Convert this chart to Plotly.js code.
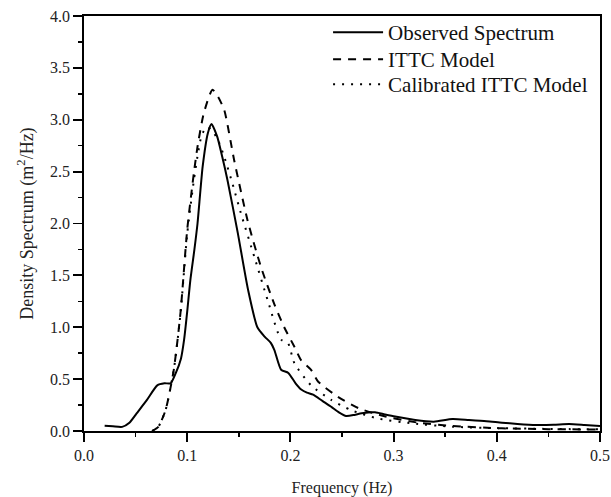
<!DOCTYPE html>
<html><head><meta charset="utf-8">
<script src="https://cdn.plot.ly/plotly-3.0.1.min.js"></script>
<style>html,body{margin:0;padding:0;background:#fff}#chart{width:611px;height:497px}</style>
</head><body><div id="chart"></div>
<script>
// Observed spectrum
const obsFreq = [0.020,0.028,0.037,0.044,0.051,0.061,0.071,0.078,0.084,0.089,0.094,0.097,0.100,0.103,0.107,0.110,0.115,0.120,0.1235,0.129,0.134,0.139,0.149,0.159,0.168,0.175,0.181,0.1845,0.191,0.198,0.205,0.2105,0.216,0.222,0.231,0.240,0.247,0.254,0.262,0.269,0.282,0.2915,0.3015,0.321,0.339,0.357,0.373,0.390,0.405,0.420,0.438,0.455,0.470,0.485,0.500];
const obsVal  = [0.050,0.045,0.040,0.080,0.170,0.300,0.440,0.460,0.460,0.560,0.700,0.880,1.150,1.450,1.750,2.000,2.550,2.870,2.960,2.840,2.640,2.420,1.910,1.360,1.000,0.910,0.850,0.780,0.590,0.560,0.460,0.400,0.370,0.350,0.290,0.230,0.180,0.145,0.155,0.170,0.180,0.160,0.140,0.106,0.090,0.115,0.106,0.095,0.080,0.068,0.058,0.060,0.067,0.058,0.048];
// ITTC model
const ittcFreq = [0.066,0.072,0.079,0.087,0.0935,0.100,0.1065,0.110,0.116,0.1245,0.130,0.136,0.1455,0.1585,0.1715,0.1845,0.194,0.204,0.2105,0.220,0.227,0.246,0.266,0.292,0.324,0.357,0.405,0.450,0.500];
const ittcVal  = [0.000,0.040,0.200,0.590,1.140,1.940,2.490,2.740,3.060,3.290,3.220,3.090,2.610,2.030,1.580,1.220,1.000,0.810,0.680,0.590,0.475,0.330,0.220,0.140,0.080,0.048,0.026,0.018,0.014];
// Calibrated ITTC model
const calFreq = [0.066,0.072,0.079,0.087,0.0935,0.100,0.1065,0.110,0.114,0.119,0.124,0.130,0.136,0.144,0.152,0.165,0.178,0.191,0.1975,0.204,0.220,0.2395,0.259,0.285,0.318,0.357,0.400,0.450,0.500];
const calVal  = [0.000,0.040,0.200,0.590,1.130,1.900,2.420,2.650,2.850,2.930,2.900,2.800,2.640,2.380,2.100,1.680,1.260,0.880,0.850,0.650,0.440,0.300,0.200,0.120,0.073,0.041,0.028,0.020,0.016];

const xTicks = [0.0,0.1,0.2,0.3,0.4,0.5];
const xTickText = ['0.0','0.1','0.2','0.3','0.4','0.5'];
const yTicks = [0.0,0.5,1.0,1.5,2.0,2.5,3.0,3.5,4.0];
const yTickText = ['0.0','0.5','1.0','1.5','2.0','2.5','3.0','3.5','4.0'];

const fontFam = '"Liberation Serif", "Times New Roman", serif';
const traces = [
  {x: obsFreq, y: obsVal, name: 'Observed Spectrum', legend: 'legend', mode: 'lines', line: {color: '#000', width: 2, shape: 'spline', smoothing: 0.6}},
  {x: ittcFreq, y: ittcVal, name: 'ITTC Model', legend: 'legend2', mode: 'lines', line: {color: '#000', width: 2, dash: '8px,7px', shape: 'spline', smoothing: 0.6}},
  {x: calFreq, y: calVal, name: 'Calibrated ITTC Model', legend: 'legend3', mode: 'lines', line: {color: '#000', width: 2, dash: '2px,7px', shape: 'spline', smoothing: 0.6}}
];
const axisCommon = {
  showgrid: false, zeroline: false, showline: true, linecolor: '#000', linewidth: 1.8,
  mirror: true, ticks: 'outside', ticklen: 9, tickwidth: 1.8, tickcolor: '#000',
  tickfont: {family: fontFam, size: 16, color: '#222'},
  minor: {ticks: 'outside', ticklen: 4, tickwidth: 1.6, tickcolor: '#000', showgrid: false}
};
function legendAt(y) {
  return {x: 0.473, xanchor: 'left', y: y, yanchor: 'top', bgcolor: 'rgba(0,0,0,0)',
          font: {family: fontFam, size: 21, color: '#111'}, itemwidth: 50};
}
const layout = {
  width: 611, height: 497,
  margin: {l: 84, r: 11, t: 16, b: 66, autoexpand: false},
  paper_bgcolor: '#fff', plot_bgcolor: '#fff',
  font: {family: fontFam, color: '#222'},
  showlegend: true,
  legend: legendAt(1.0096),
  legend2: legendAt(0.9446),
  legend3: legendAt(0.8843),
  xaxis: Object.assign({}, axisCommon, {
    range: [0, 0.5], tickvals: xTicks, ticktext: xTickText,
    minor: Object.assign({}, axisCommon.minor, {dtick: 0.05, tick0: 0}),
    title: {text: 'Frequency (Hz)', font: {family: fontFam, size: 16, color: '#222'}, standoff: 24}
  }),
  yaxis: Object.assign({}, axisCommon, {
    range: [0, 4], tickvals: yTicks, ticktext: yTickText,
    minor: Object.assign({}, axisCommon.minor, {dtick: 0.25, tick0: 0}),
    title: {text: 'Density Spectrum (m<sup>2</sup>/Hz)', font: {family: fontFam, size: 18, color: '#222'}, standoff: 12}
  })
};
Plotly.newPlot('chart', traces, layout, {displayModeBar: false, staticPlot: true});
</script></body></html>
